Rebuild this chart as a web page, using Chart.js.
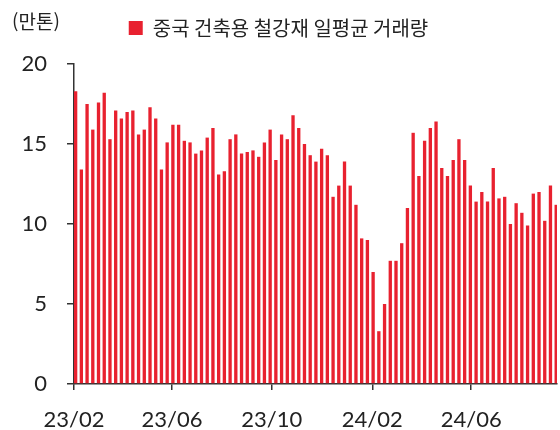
<!DOCTYPE html>
<html lang="ko">
<head>
<meta charset="utf-8">
<title>중국 건축용 철강재 일평균 거래량</title>
<script src="https://cdn.jsdelivr.net/npm/chart.js@4"></script>
<style>
    html, body { margin: 0; padding: 0; background: #fff; }
    #wrap { width: 560px; height: 430px; position: relative; }
</style>
</head>
<body>
<div id="wrap"><canvas id="chart1"></canvas></div>
<script>
// Weekly data, first week ending 2023-02-03
const firstWeek = '2023-02-03';
const seriesName = '중국 건축용 철강재 일평균 거래량';
const unitLabel = '(만톤)';
const volumes = [
    18.3, 13.4, 17.5, 15.9, 17.6, 18.2, 15.3, 17.1, 16.6, 17.0,
    17.1, 15.6, 15.9, 17.3, 16.6, 13.4, 15.1, 16.2, 16.2, 15.2,
    15.1, 14.4, 14.6, 15.4, 16.0, 13.1, 13.3, 15.3, 15.6, 14.4,
    14.5, 14.6, 14.2, 15.1, 15.9, 14.0, 15.6, 15.3, 16.8, 16.0,
    15.0, 14.3, 13.9, 14.7, 14.3, 11.7, 12.4, 13.9, 12.4, 11.2,
    9.1, 9.0, 7.0, 3.3, 5.0, 7.7, 7.7, 8.8, 11.0, 15.7,
    13.0, 15.2, 16.0, 16.4, 13.5, 13.0, 14.0, 15.3, 14.0, 12.4,
    11.4, 12.0, 11.4, 13.5, 11.6, 11.7, 10.0, 11.3, 10.7, 9.9,
    11.9, 12.0, 10.2, 12.4, 11.2
];
const xTickLabels = ['23/02', '23/06', '23/10', '24/02', '24/06'];
const yTicks = [0, 5, 10, 15, 20];

const DAY = 24 * 3600 * 1000;
const origin = Date.UTC(2023, 1, 1);

// week dates (categories)
const weeks = volumes.map((v, i) => new Date(Date.parse(firstWeek) + i * 7 * DAY));

// days since origin, used as x on a linear axis
function dayOf(date) {
    return Math.round((date.getTime() - origin) / DAY);
}

// '23/06' -> day of 2023-06-01
function tickDay(label) {
    const [yy, mm] = label.split('/').map(Number);
    return Math.round((Date.UTC(2000 + yy, mm - 1, 1) - origin) / DAY);
}

const RED = '#e8212f';
const AXIS = '#333333';
const NUM_FONT = 'Lato, "Noto Sans", sans-serif';
const KR_FONT = '"Noto Sans CJK KR", "Noto Sans", sans-serif';

// draws the unit text in the top-left corner
const unitPlugin = {
    id: 'unitLabel',
    afterDraw(chart) {
        const ctx = chart.ctx;
        ctx.save();
        ctx.font = '19px ' + KR_FONT;
        ctx.fillStyle = '#222';
        ctx.textAlign = 'left';
        ctx.textBaseline = 'middle';
        ctx.fillText(unitLabel, 12, 22);
        ctx.restore();
    }
};

// leaves more room between legend and plot
const legendGap = {
    id: 'legendGap',
    beforeInit(chart) {
        const fit = chart.legend.fit;
        chart.legend.fit = function () {
            fit.call(this);
            this.height += 16;
        };
    }
};

document.addEventListener('DOMContentLoaded', function () {
    initializeChart();
});

function initializeChart() {
    const ctx = document.getElementById('chart1');
    const lastDay = dayOf(weeks[weeks.length - 1]);

    new Chart(ctx, {
        type: 'bar',
        data: {
            datasets: [{
                label: seriesName,
                data: volumes.map((v, i) => ({ x: dayOf(weeks[i]), y: v })),
                backgroundColor: RED,
                borderWidth: 0,
                categoryPercentage: 1,
                barPercentage: 0.58
            }]
        },
        options: {
            responsive: true,
            maintainAspectRatio: false,
            animation: false,
            layout: {
                padding: { top: 8, right: 3, left: 0, bottom: 0 }
            },
            plugins: {
                legend: {
                    display: true,
                    position: 'top',
                    labels: {
                        boxWidth: 14,
                        boxHeight: 14,
                        padding: 10,
                        color: '#222',
                        font: { family: KR_FONT, size: 20 }
                    }
                },
                tooltip: { enabled: false }
            },
            scales: {
                x: {
                    type: 'linear',
                    min: 0,
                    max: lastDay + 1,
                    offset: false,
                    afterBuildTicks: (scale) => {
                        scale.ticks = xTickLabels.map(l => ({ value: tickDay(l) }));
                    },
                    afterFit: (scale) => { scale.height = 46; },
                    grid: {
                        offset: false,
                        drawOnChartArea: false,
                        drawTicks: true,
                        tickLength: 6,
                        color: AXIS,
                        lineWidth: 1.5
                    },
                    border: { display: true, color: AXIS, width: 1.5 },
                    ticks: {
                        autoSkip: false,
                        maxRotation: 0,
                        padding: 19,
                        color: '#222',
                        font: { family: NUM_FONT, size: 22, lineHeight: 1 },
                        callback: (value, index) => xTickLabels[index]
                    }
                },
                y: {
                    min: 0,
                    max: 20,
                    afterBuildTicks: (scale) => {
                        scale.ticks = yTicks.map(v => ({ value: v }));
                    },
                    afterFit: (scale) => { scale.width = 74; },
                    grid: {
                        drawOnChartArea: false,
                        drawTicks: true,
                        tickLength: 7,
                        color: AXIS,
                        lineWidth: 1.5
                    },
                    border: { display: true, color: AXIS, width: 1.5 },
                    ticks: {
                        padding: 20,
                        color: '#222',
                        font: { family: NUM_FONT, size: 22, lineHeight: 1 }
                    }
                }
            }
        },
        plugins: [unitPlugin, legendGap]
    });
}
</script>
</body>
</html>
